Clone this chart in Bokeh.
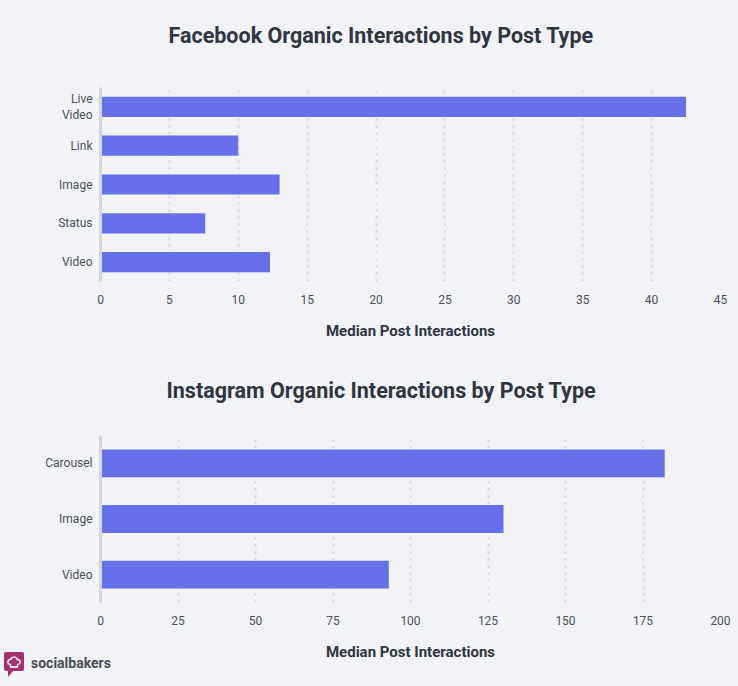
from bokeh.plotting import figure
from bokeh.layouts import column
from bokeh.models import Range1d, FactorRange, ColumnDataSource, Title, Div
from bokeh.embed import file_html
from bokeh.resources import INLINE

# ---- data ----
fb_types = ["Live\nVideo", "Link", "Image", "Status", "Video"]
fb_values = [42.5, 10.0, 13.0, 7.6, 12.3]
fb_ticks = [0, 5, 10, 15, 20, 25, 30, 35, 40, 45]

ig_types = ["Carousel", "Image", "Video"]
ig_values = [182, 130, 93]
ig_ticks = [0, 25, 50, 75, 100, 125, 150, 175, 200]

fb_title = "Facebook Organic Interactions by Post Type"
ig_title = "Instagram Organic Interactions by Post Type"
x_label = "Median Post Interactions"
brand = "socialbakers"

# ---- style ----
BG = "#f2f3f6"
BAR = "#6670e8"
AXIS = "#d3d5db"
GRID = "#d2d4d9"
TITLE_C = "#2f3542"
TICK_C = "#4c505b"
LOGO_C = "#a3336a"
FONT = "Roboto"
W = 738


def make_chart(types, values, ticks, title, title_offset, spacer, height, top, bottom, bar_h):
    src = ColumnDataSource(dict(cat=types, val=values))
    p = figure(width=W, height=height,
               y_range=FactorRange(factors=list(reversed(types))),
               x_range=Range1d(ticks[0], ticks[-1]),
               output_backend="svg", toolbar_location=None,
               min_border_left=100, min_border_right=18,
               min_border_top=top, min_border_bottom=bottom)
    p.background_fill_color = BG
    p.border_fill_color = BG
    p.outline_line_color = None

    # spacer between title and plot area
    p.add_layout(Title(text=" ", text_font_size="1px", standoff=spacer), "above")
    p.title = Title(text=title, align="left", offset=title_offset, standoff=43,
                    vertical_align="middle", text_font=FONT, text_font_size="21.5px",
                    text_font_style="bold", text_color=TITLE_C)

    p.hbar(y="cat", right="val", left=0, height=bar_h, source=src,
           fill_color=BAR, line_color=None)

    # x axis
    p.xaxis.ticker = ticks
    p.xaxis.axis_line_color = None
    p.xaxis.major_tick_line_color = None
    p.xaxis.minor_tick_line_color = None
    p.xaxis.major_tick_out = 0
    p.xaxis.major_tick_in = 0
    p.xaxis.major_label_standoff = 13
    p.xaxis.major_label_text_font = FONT
    p.xaxis.major_label_text_font_size = "12px"
    p.xaxis.major_label_text_color = TICK_C
    p.xaxis.axis_label = x_label
    p.xaxis.axis_label_text_font = FONT
    p.xaxis.axis_label_text_font_size = "15px"
    p.xaxis.axis_label_text_font_style = "bold"
    p.xaxis.axis_label_text_color = TITLE_C
    p.xaxis.axis_label_standoff = 15

    # y axis
    p.yaxis.axis_line_color = AXIS
    p.yaxis.axis_line_width = 3
    p.yaxis.major_tick_line_color = None
    p.yaxis.minor_tick_line_color = None
    p.yaxis.major_tick_out = 0
    p.yaxis.major_tick_in = 0
    p.yaxis.major_label_standoff = 8
    p.yaxis.major_label_text_font = FONT
    p.yaxis.major_label_text_font_size = "12px"
    p.yaxis.major_label_text_color = TICK_C

    # grids
    p.ygrid.visible = False
    p.xgrid.ticker = ticks
    p.xgrid.grid_line_color = GRID
    p.xgrid.grid_line_width = 2
    p.xgrid.grid_line_dash = "2 5"
    return p


p1 = make_chart(fb_types, fb_values, fb_ticks, fb_title, 68, 14, 355, 87, 74, 0.52)
p2 = make_chart(ig_types, ig_values, ig_ticks, ig_title, 66, 7, 317, 80, 70, 0.5)

# ---- brand mark (decorative) ----
logo_svg = (
    '<svg width="22" height="26" viewBox="0 0 22 26" style="display:block">'
    '<rect x="0" y="0" width="20" height="19" rx="2" fill="%s"/>'
    '<polygon points="4,18 10,18 4,25" fill="%s"/>'
    '<path d="M6.5,12.5 C3,12.5 3,7 6.8,7.6 C7.3,4.3 12.7,4.3 13.2,7.6 '
    'C17,7 17,12.5 13.5,12.5 L13.5,15 L6.5,15 Z" fill="none" stroke="white" '
    'stroke-width="1.4" stroke-linejoin="round"/>'
    '</svg>' % (LOGO_C, LOGO_C)
)
logo_html = (
    '<div style="display:flex;align-items:flex-start;padding-left:4px;">'
    + logo_svg +
    '<span style="margin-left:5px;line-height:22px;font-family:Roboto;font-weight:bold;'
    'font-size:14px;color:#4a4d57;">%s</span></div>' % brand
)
logo = Div(text=logo_html, width=200, height=28, margin=(-20, 0, 0, 0))

layout = column(p1, p2, logo, spacing=0)
layout.styles = {"background-color": BG}

html = file_html(layout, INLINE)
html = html.replace("</head>", "<style>html,body{background:%s;}</style></head>" % BG, 1)
open("out.html", "w").write(html)
